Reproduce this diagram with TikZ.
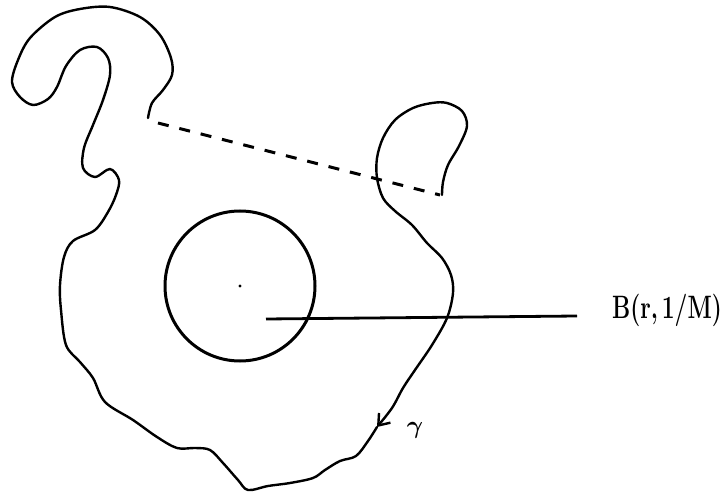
\documentclass[tikz,border=0pt]{standalone}
\usetikzlibrary{arrows.meta}
\begin{document}
\begin{tikzpicture}[x=1pt, y=-1pt,
    curve/.style={line width=2.4pt, line join=round, line cap=round},
    ball/.style={line width=3pt},
    gapline/.style={line width=3pt, dash pattern=on 11pt off 11pt},
    radius line/.style={line width=2.8pt}]
  \useasboundingbox (0,0) rectangle (728,494);

  %% ── Ball B(r,1/M) ────────────────────────────────────────
  \coordinate (ctr) at (240,286);
  \draw[ball] (ctr) circle (75);
  \fill (ctr) circle (1.6);

  %% ── Curve gamma (bulb + right side, arrow) ──────────────
  \draw[curve, -{Straight Barb[length=10pt, width=15pt, line width=2.4pt]}]
    plot[smooth, tension=0.55] coordinates {
      (442,195) (443,182) (448,165) (459,146) (467,126) (462,111)
      (447,103) (432,103) (413,108) (395,120) (383,138) (377,158)
      (377,178) (383,198) (395,211) (412,225) (427,243) (442,258)
      (451,275) (453,293) (447,318) (432,345) (415,370) (403,388)
      (392,408) (377,427)};
  %% ── Curve gamma (bottom, left side, hook) ────────────────
  \draw[curve]
    plot[smooth, tension=0.55] coordinates {
      (377,427) (368,441) (356,456) (340,461) (325,470) (313,478)
      (290,483) (268,486) (248,490) (238,480) (223,463) (210,450)
      (195,448) (177,448) (157,437) (133,420) (105,402) (93,378)
      (80,362) (66,345) (61,310) (60,285) (64,257) (73,241)
      (95,230) (108,212) (116,195) (119,180) (110,169) (95,177)
      (83,168) (84,148) (93,125) (103,100) (110,75) (108,58)
      (97,47) (80,50) (66,66) (57,87) (48,99) (33,105)
      (20,97) (12,82) (18,60) (30,38) (55,17) (80,9)
      (110,7) (140,17) (160,35) (171,58) (172,75) (163,90)
      (152,103) (148,118)};

  %% ── Dashed chord across the gap ──────────────────────────
  \coordinate (gapA) at (158,123);
  \coordinate (gapB) at (440,195);
  \draw[gapline] (gapA) -- (gapB);

  %% ── Labels ───────────────────────────────────────────────
  \node[font=\fontsize{24}{28}\selectfont\bfseries, anchor=west, inner sep=0pt]
    (blabel) at (612,310) {\scalebox{0.95}[1.35]{B(r,\,1/M)}};
  \node[font=\fontsize{30}{34}\selectfont\boldmath, inner sep=0pt]
    (glabel) at (415,430) {$\gamma$};

  \coordinate (rfoot) at (266,319);
  \coordinate (rend) at (577,316);
  \draw[radius line] (rfoot) -- (rend);
\end{tikzpicture}
\end{document}
